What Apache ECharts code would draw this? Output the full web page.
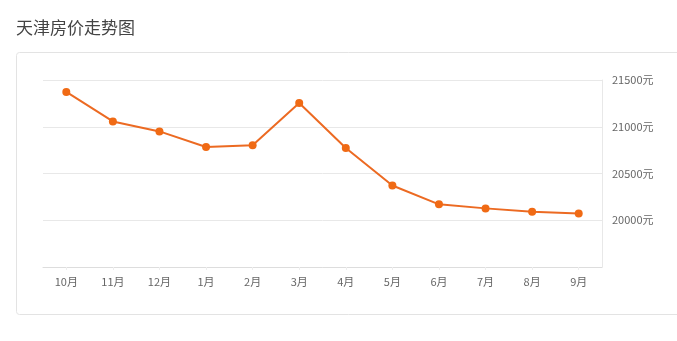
<!DOCTYPE html>
<html><head><meta charset="utf-8">
<script src="https://cdn.jsdelivr.net/npm/echarts@6/dist/echarts.min.js"></script>
<style>html,body{margin:0;padding:0;background:#fff}#c{width:677px;height:341px}</style>
</head><body><div id="c"></div>
<script>
var months = ['10月','11月','12月','1月','2月','3月','4月','5月','6月','7月','8月','9月'];
var prices = [21372, 21057, 20950, 20784, 20801, 21255, 20773, 20372, 20170, 20127, 20092, 20071];
var yMin = 19500, yMax = 21500, yStep = 500;
var titleText = '天津房价走势图';
var font = '"Noto Sans CJK SC", "Noto Sans", sans-serif';
var chart = echarts.init(document.getElementById('c'), null, {renderer: 'canvas'});
chart.setOption({
  animation: false,
  title: {text: titleText, left: 11, top: 14, textStyle: {fontSize: 17, fontWeight: 'normal', color: '#444', fontFamily: font}},
  graphic: [{type: 'rect', shape: {x: 16.5, y: 52.5, width: 700, height: 262, r: 3}, style: {fill: 'none', stroke: '#e3e3e3', lineWidth: 1}, z: -1}],
  grid: {left: 43, right: 75, top: 80, bottom: 74},
  xAxis: {
    type: 'category', data: months, boundaryGap: true,
    axisLine: {lineStyle: {color: '#dddddd', width: 1}},
    axisTick: {show: true, alignWithLabel: true, length: 3, lineStyle: {color: '#eeeeee'}},
    axisLabel: {color: '#666', fontSize: 11, margin: 9, fontFamily: font}
  },
  yAxis: {
    type: 'value', position: 'right', min: yMin, max: yMax, interval: yStep,
    axisLine: {show: true, lineStyle: {color: '#e8e8e8'}},
    axisTick: {show: false},
    splitLine: {lineStyle: {color: '#e8e8e8'}},
    axisLabel: {color: '#666', fontSize: 11, margin: 10, fontFamily: font, showMinLabel: false,
      formatter: function (v) { return v + '元'; }}
  },
  series: [{
    type: 'line', data: prices, symbol: 'circle', symbolSize: 8,
    itemStyle: {color: '#f06a14'}, lineStyle: {color: '#ec6a22', width: 2}
  }]
});
</script></body></html>
